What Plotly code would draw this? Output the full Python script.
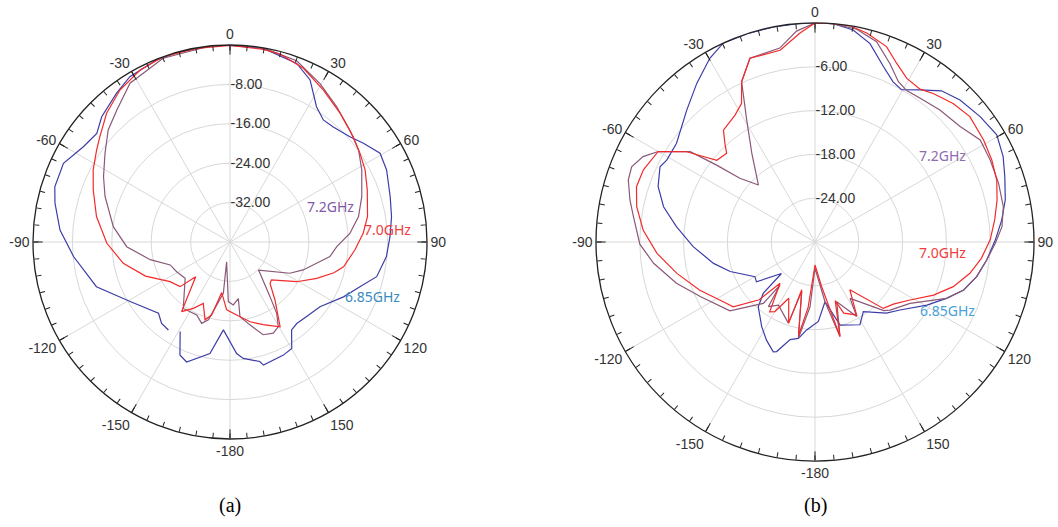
import plotly.graph_objects as go

# ---------------- data: chart (a) ----------------
theta_a_685 = [0, 9.8, 20.5, 26.3, 32.6, 37.4, 41.9, 48.7, 53.5, 59.4, 65.3, 74.2, 81.1, 88.1, 95.3, 103.3, 109, 115.8,
               125.7, 134.2, 140.7, 145, 149.9, 154.7, 164.8, 166, 173.5, 176.6, 184.3, 190.2, 199.9, 203.9, 209.1,
               212, 215, 220, 225.1, 239.2, 251.5, 264.7, 274, 282.5, 287.5, 295.3, 303, 309.2, 314.3, 322.7,
               328.8, 338, 345.3, 355.1, 360]
r_a_685 = [-0.1, -0.1, -1.3, -3.3, -7.4, -8.8, -8.6, -7.6, -6.3, -4.6, -5.0, -6.2, -6.8, -7.5, -8.1, -9.4, -12.1, -14.4,
           -17.5, -18.3, -18.6, -18.2, -15.0, -14.6, -14.1, -15.0, -16.2, -17.3, -22.1, -17.0, -14.1, -14.9, -19.2,
           None, -18.2, -18.4, -19.5, -16.4, -11.4, -8.1, -5.4, -3.6, -2.7, -2.6, -4.5, -5.1, -3.6, -2.0,
           -0.75, -0.15, -0.07, 0, -0.1]

theta_a_70 = [0, 9.8, 14.9, 22.9, 31.6, 40.5, 49.5, 55.7, 61.9, 69.3, 79.5, 86.3, 93.7, 102.3, 106.5, 112.7, 120.8,
              132.4, 136, 142.2, 149.4, 158.1, 165.9, 174.8, 182.8, 189.3, 194.1, 197.8, 203.5, 208.9, 214.8,
              224.7, 228.2, 236.5, 248, 258.7, 269.4, 280.8, 290.8, 297.8, 304.6, 309, 316.2, 324.1, 332.4, 340.2,
              350.2, 360]
r_a_70 = [-0.1, -0.3, -0.5, -1.7, -3.8, -5.6, -7.1, -8.05, -8.9, -10.2, -11.6, -12.9, -14.6, -16.4, -18.0, -20.9, -24.25,
          -28.6, -28.3, -25.1, -20.0, -21.9, -23.3, -25.1, -26.2, -29.6, -24.7, -23.4, -26.4, -24.6, -22.8,
          -30.1, -26.4, -25.4, -21.5, -17.9, -15.0, -12.4, -10.3, -8.6, -7.1, -6.0, -3.8, -1.9, -0.6, 0,
          -0.1, -0.1]

theta_a_72 = [0, 9.7, 20.2, 29.6, 38.2, 47, 54.4, 61.3, 71, 78.8, 85.9, 92.5, 98.3, 104, 110.9, 117.6, 134.7, 136.2,
              143.8, 146.8, 150.3, 154.6, 160.3, 166.5, 172.4, 171.6, 177, 181.6, 189.6, 187.4, 195.5, 199.2,
              204.5, 215.1, 231.1, 240.9, 249, 257.5, 267.4, 277.5, 290, 297.3, 305.3, 312.6, 319.4, 327.8, 340,
              354.2, 360]
r_a_72 = [0, 0, -0.8, -3.0, -5.0, -6.7, -7.9, -9.5, -11.7, -13.4, -15.6, -18.3, -19.5, -22.0, -24.1, -26.3, -31.9, -31.2,
          -26.25, -22.7, -20.2, -19.5, -20.0, -22.7, -24.7, -28.4, -27.2, -27.9, -35.9, -29.5, -23.6, -22.5,
          -23.7, -23.5, -28.3, -27.6, -27.0, -23.4, -19.0, -16.1, -13.0, -11.1, -8.9, -6.4, -4.7, -1.9, -0.3,
          0, 0]

# ---------------- data: chart (b) ----------------
theta_b_685 = [0, 4.8, 10.2, 15.5, 21.3, 26, 29.6, 34.6, 39.9, 45.6, 52.8, 59.5, 65.6, 71, 77.5, 83.3, 89.4, 96,
               102.1, 107.9, 113.2, 119.4, 128.7, 134.9, 145.2, 151.5, 163.2, 170.5, 177.6, 185.4, 189.8, 194.3,
               199.3, 200.8, 206.3, 212.2, 221.2, 225.2, 226.8, 235.8, 240, 250.8, 258.1, 267.8, 276.3, 283.1,
               289.5, 295.9, 298.9, 305.5, 315.8, 323.3, 330.2, 335.2, 342, 349.1, 356, 360]
r_b_685 = [0, 0, -0.5, -1.8, -4.2, -5.6, -6.0, -4.7, -3.0, -2.2, -1.6, -1.1, -1.7, -2.5, -3.3, -4.25, -5.3, -6.35,
           -7.35, -8.6, -10.4, -12.4, -15.1, -16.2, -18.4, -17.1, -18.1, -21.7, -19.1, -17.9, -16.6, -16.2,
           -14.1, -13.9, -15.0, -16.3, -18.2, -20.0, -23.7, -20.3, -20.5, -17.7, -15.8, -13.3, -10.9, -8.7,
           -7.2, -6.4, -6.8, -6.7, -4.8, -2.9, -1.0, 0, 0, 0, 0, 0]

theta_b_70 = [0, 4.8, 9.2, 13.9, 20.1, 24.6, 29.3, 34.5, 38.5, 44.9, 51, 58.8, 65.1, 71.2, 77, 83, 89.3, 95.6, 101.4,
              107.9, 114.1, 121.4, 128.4, 134.2, 143.9, 150.3, 158, 161, 165.2, 171.5, 180, 186, 190, 195.5, 198,
              205, 210, 213, 220.3, 224, 231.6, 236.9, 247.3, 257.2, 265.9, 274, 281.2, 287.2, 292.8, 300, 305.1,
              309.8, 315.1, 317.6, 320.7, 327.8, 332.1, 335.4, 340.5, 349.7, 355.9, 360]
r_b_70 = [0, 0, 0, -0.5, -1.5, -3.1, -4.3, -4.6, -4.0, -3.2, -2.7, -3.0, -3.3, -3.7, -4.4, -5.2, -6.0, -7.1, -8.35,
          -10.1, -12.2, -14.75, -16.3, -16.95, -21.9, -18.5, -19.5, -21.5, -16.6, -23.8, -26.85, -21.0, -17.0, -23.2, -18.3,
          -21.5, -19.0, -18.6, -22.6, -19.0, -15.7, -15.0, -12.9, -10.6, -8.3, -6.4, -5.1, -4.4, -4.5, -5.2, -8.5,
          -12.5, -12.85, -11.7, -10.2, -9.45, -8.5, -5.85, -3.3, -3.3, -1.3, 0]

theta_b_72 = [0, 4.8, 11.1, 17.1, 22.8, 27.5, 31.2, 36.2, 43.4, 51.5, 58.3, 64.9, 72.3, 79.4, 85.3, 90.4, 96, 102.1,
              107.9, 113.2, 122.9, 132.2, 134.9, 148.1, 150.8, 160, 165.2, 170.5, 180, 184.4, 189.8, 195, 198.2,
              210, 215.8, 219.1, 220.1, 231, 244.6, 253.4, 262.5, 269.3, 277.9, 282.8, 288.4, 292.3, 296.4, 300,
              305.9, 308, 310.3, 315.2, 324.5, 330.7, 335.4, 340.5, 349.7, 355, 360]
r_b_72 = [0, 0, -0.3, -1.3, -3.5, -5.25, -5.75, -5.6, -5.1, -4.6, -3.4, -3.5, -3.6, -3.75, -4.3, -5.3, -6.35, -7.35,
          -8.6, -10.4, -14.5, -16.1, -16.7, -20.9, -18.3, -21.3, -16.6, -21.7, -26.4, -21.1, -16.6, -23.0, -18.3,
          -20.0, -19.1, -22.4, -19.0, -15.0, -12.6, -10.2, -7.7, -6.0, -4.9, -4.0, -3.05, -2.85, -3.7, -5.2,
          -8.9, -12.9, -16.5, -19.0, -15.1, -10.9, -5.85, -3.3, -3.0, -1.0, 0]

angle_ticks = [0, 30, 60, 90, 120, 150, 180, 210, 240, 270, 300, 330]
angle_labels = ["0", "30", "60", "90", "120", "150", "-180", "-150", "-120", "-90", "-60", "-30"]
minor_ticks = list(range(0, 360, 5))
rad_a_ticks = [-32, -24, -16, -8]
rad_b_ticks = [-24, -18, -12, -6]

C_BLUE = "#3d3da8"
C_RED = "#f42a2a"
C_PURPLE = "#8a5878"

fig = go.Figure()

def add_series(theta, r, color, subplot):
    fig.add_trace(go.Scatterpolar(theta=theta, r=r, mode="lines", subplot=subplot,
                                  line=dict(color=color, width=1.2), connectgaps=False,
                                  hoverinfo="skip", showlegend=False))

add_series(theta_a_685, r_a_685, C_BLUE, "polar")
add_series(theta_a_72, r_a_72, C_PURPLE, "polar")
add_series(theta_a_70, r_a_70, C_RED, "polar")
add_series(theta_b_685, r_b_685, C_BLUE, "polar2")
add_series(theta_b_72, r_b_72, C_PURPLE, "polar2")
add_series(theta_b_70, r_b_70, C_RED, "polar2")

# invisible traces to instantiate tick-overlay subplots
for sp in ["polar3", "polar4"]:
    fig.add_trace(go.Scatterpolar(theta=[0], r=[-1], mode="markers", subplot=sp,
                                  marker=dict(opacity=0), hoverinfo="skip", showlegend=False))

W, H = 1058, 527
dom_a = dict(x=[33 / W, 427 / W], y=[(H - 439) / H, (H - 45) / H])
dom_b = dict(x=[596 / W, 1034 / W], y=[(H - 461) / H, (H - 23) / H])

GRID = "#d8d8d8"
TXT = "#333333"
tickfont = dict(family="Liberation Sans, Arial, sans-serif", size=14, color=TXT)


def main_polar(domain, rng, rticks):
    return dict(
        domain=domain, bgcolor="white",
        angularaxis=dict(rotation=90, direction="clockwise", tickmode="array", tickvals=angle_ticks,
                         ticktext=angle_labels, ticks="inside", ticklen=9, tickwidth=1.2, tickcolor="#222",
                         showline=True, linecolor="#222", linewidth=1.3, gridcolor=GRID, gridwidth=1,
                         tickfont=tickfont),
        radialaxis=dict(range=rng, tickmode="array", tickvals=rticks,
                        ticktext=["%.2f" % v for v in rticks], angle=90, side="clockwise",
                        showline=False, ticks="", gridcolor=GRID, gridwidth=1, tickangle=90,
                        tickfont=dict(family="Liberation Sans, Arial, sans-serif", size=14, color=TXT)),
    )


def tick_polar(domain, rng):
    return dict(
        domain=domain, bgcolor="rgba(0,0,0,0)",
        angularaxis=dict(rotation=90, direction="clockwise", tickmode="array", tickvals=minor_ticks,
                         ticks="inside", ticklen=5, tickwidth=1, tickcolor="#222", showticklabels=False,
                         showline=False, showgrid=False),
        radialaxis=dict(range=rng, visible=False, showgrid=False),
    )


fig.update_layout(
    width=W, height=H, autosize=False,
    margin=dict(l=0, r=0, t=0, b=0),
    paper_bgcolor="white",
    polar=main_polar(dom_a, [-40, 0], rad_a_ticks),
    polar2=main_polar(dom_b, [-30, 0], rad_b_ticks),
    polar3=tick_polar(dom_a, [-40, 0]),
    polar4=tick_polar(dom_b, [-30, 0]),
    showlegend=False,
)

lab_font = "Noto Sans, Open Sans, sans-serif"
labels = [
    (330, 206, "7.2GHz", "#7f58a8"),
    (387, 229, "7.0GHz", "#f03c3c"),
    (372, 296, "6.85GHz", "#3a8ac0"),
    (942, 155, "7.2GHz", "#8e6cb0"),
    (942, 252, "7.0GHz", "#f03c3c"),
    (947, 310, "6.85GHz", "#4aa0d8"),
]
for x, y, t, c in labels:
    fig.add_annotation(x=x / W, y=1 - y / H, xref="paper", yref="paper", text=t, showarrow=False,
                       font=dict(family=lab_font, size=14, color=c), xanchor="center", yanchor="middle")

for x, t in [(230, "(a)"), (815, "(b)")]:
    fig.add_annotation(x=x / W, y=1 - 505 / H, xref="paper", yref="paper", text=t, showarrow=False,
                       font=dict(family="Liberation Serif, Times New Roman, serif", size=20, color="black"),
                       xanchor="center", yanchor="middle")

fig.write_html("out.html", config={"displayModeBar": False},
               post_script="document.body.style.margin='0';document.body.style.overflow='hidden';")
